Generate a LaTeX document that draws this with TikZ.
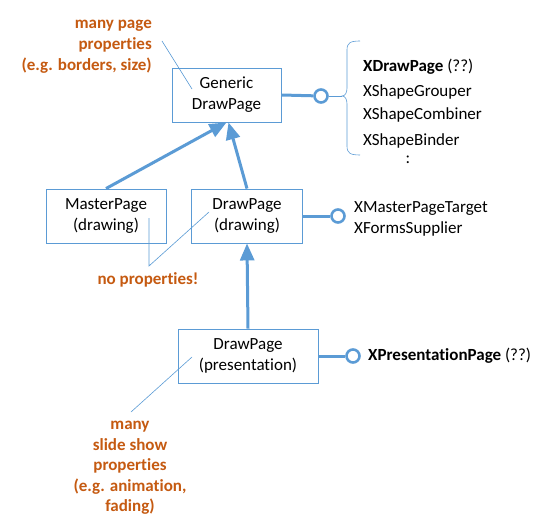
\documentclass[tikz,border=0pt]{standalone}
\usepackage{fontspec}
\setmainfont{Carlito}[Ligatures={NoCommon}]
\usetikzlibrary{arrows.meta}
\definecolor{ublue}{HTML}{5B9BD5}
\definecolor{uorange}{HTML}{C55A11}
\begin{document}
\begin{tikzpicture}[x=1pt,y=-1pt,
  box/.style={draw=ublue,line width=0.9pt,align=center,inner sep=0pt,font=\fontsize{17}{21}\selectfont},
  inh/.style={draw=ublue,line width=3pt,-{Triangle[length=17pt,width=14pt]}},
  lol/.style={draw=ublue,line width=3pt},
  lolc/.style={circle,draw=ublue,line width=2.6pt,fill=white,minimum size=13pt,inner sep=0pt},
  itf/.style={anchor=west,inner sep=0pt,align=left,font=\fontsize{17}{21}\selectfont},
  note/.style={text=uorange,inner sep=0pt,font=\bfseries\fontsize{17}{21}\selectfont},
  noteline/.style={draw=ublue,line width=0.6pt}]
\useasboundingbox (0,0) rectangle (549,532);
% boxes
\node[box,minimum width=109pt,minimum height=54pt] (gen) at (226.5,95) {Generic\\DrawPage};
\node[box,minimum width=120pt,minimum height=54pt] (mp) at (106,216) {MasterPage\\(drawing)};
\node[box,minimum width=111pt,minimum height=54pt] (dd) at (247,216) {DrawPage\\(drawing)};
\node[box,minimum width=140pt,minimum height=54pt] (pres) at (248,356) {DrawPage\\(presentation)};
% inheritance arrows
\draw[inh] (mp.north) -- ([xshift=0pt]gen.south);
\draw[inh] (dd.north) -- ([xshift=2pt]gen.south);
\draw[inh] (pres.north) -- (dd.south);
% lollipops
\node[lolc] (c1) at (321,96) {};
\node[lolc] (c2) at (338,216) {};
\node[lolc] (c3) at (353,356) {};
\draw[lol] (gen.east) -- (c1);
\draw[lol] (dd.east) -- (c2);
\draw[lol] (pres.east) -- (c3);
% brace
\coordinate (btip) at (342,96);
\draw[noteline] (c1.east) -- (btip);
\draw[noteline] (360,41) .. controls (350,41) and (347,43) .. (347,50) -- (347,88)
  .. controls (347,93) and (345,96) .. (btip)
  .. controls (345,96) and (347,99) .. (347,104) -- (347,146)
  .. controls (347,153) and (350,155) .. (360,155);
% interface texts
\node[itf] (i1) at (363,67) {\textbf{XDrawPage} (??)};
\node[itf] (i2) at (363,92) {XShapeGrouper};
\node[itf] (i3) at (363,115) {XShapeCombiner};
\node[itf] (i4) at (363,141) {XShapeBinder};
\node[itf,anchor=center] (i5) at (408,160) {:};
\node[itf] (i6) at (354,219) {XMasterPageTarget\\XFormsSupplier};
\node[itf] (i7) at (368,356) {\textbf{XPresentationPage} (??)};
% notes
\node[note,anchor=east,align=right] (n1) at (152,47) {many page\\properties\\(e.g. borders, size)};
\coordinate (n1a) at (162,41);
\coordinate (n1b) at (192,89);
\draw[noteline] (n1a) -- (n1b);
\node[note,anchor=center] (n2) at (148,280) {no properties!};
\coordinate (n2a) at (209,212);
\coordinate (n2b) at (149,266);
\coordinate (n2c) at (149,218);
\draw[noteline] (n2a) -- (n2b) -- (n2c);
\node[note,align=center,font=\bfseries\fontsize{17}{20.5}\selectfont] (n3) at (130,468) {many\\slide show\\properties\\(e.g. animation,\\fading)};
\coordinate (n3a) at (192,357);
\coordinate (n3b) at (131,412);
\draw[noteline] (n3a) -- (n3b);
\end{tikzpicture}
\end{document}
